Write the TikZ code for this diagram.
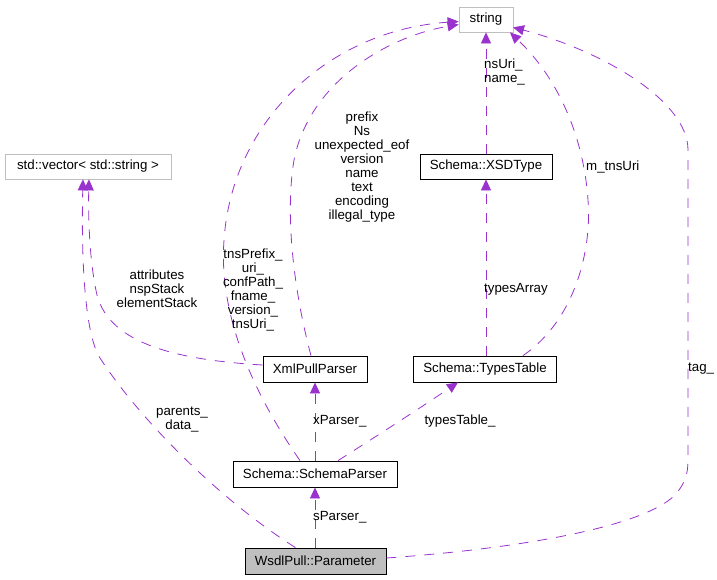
\documentclass[tikz,border=0pt]{standalone}
\usepackage{fontspec}
\setmainfont{Liberation Sans}
\usetikzlibrary{arrows.meta}
\definecolor{edgecol}{HTML}{9A32CD}
\definecolor{boxgray}{HTML}{BFBFBF}
\begin{document}
\begin{tikzpicture}[x=1pt,y=-1pt,
  cls/.style={draw=black, rectangle, inner sep=0pt, line width=0.8pt,
    font=\fontsize{13.3}{14}\selectfont, minimum height=26pt},
  ext/.style={cls, draw=boxgray, minimum height=25pt},
  focus/.style={cls, fill=boxgray},
  rel/.style={draw=edgecol, line width=0.8pt, dash pattern=on 10pt off 9pt,
    -{Triangle[length=11pt,width=10pt,fill=edgecol]}},
  lbl/.style={font=\fontsize{13.3}{14}\selectfont, align=center, inner sep=0pt}]
\useasboundingbox (0,0) rectangle (717,579);

% nodes
\node[ext, minimum width=54pt] (str) at (486,19.5) {string};
\node[ext, minimum width=166pt] (vec) at (88,166.5) {std::vector< std::string >};
\node[cls, minimum width=132pt, minimum height=25pt] (xsd) at (486,166.5) {Schema::XSDType};
\node[cls, minimum width=104pt] (xpp) at (315,369) {XmlPullParser};
\node[cls, minimum width=143pt] (tt) at (485,369) {Schema::TypesTable};
\node[cls, minimum width=164pt] (sp) at (315,474) {Schema::SchemaParser};
\node[focus, minimum width=141pt] (par) at (315.5,561) {WsdlPull::Parameter};

% edges
\draw[rel] (par.north -| 315,0) -- (sp.south -| 315,0);
\draw[rel] (sp.north -| 315,0) -- (xpp.south -| 315,0);
\draw[rel] ([xshift=23pt]sp.north) .. controls (380,434) and (420,408) .. ([xshift=-27pt]tt.south);
\draw[rel] (tt.north -| 486,0) -- (xsd.south);
\draw[rel] (xsd.north) -- (str.south);
\draw[rel] ([xshift=38pt]tt.north) .. controls (575,320) and (592,250) .. (588,200)
  .. controls (584,140) and (560,80) .. ([xshift=24pt]str.south);
\draw[rel] ([xshift=-4pt]xpp.north) .. controls (296,300) and (284,220) .. (294,160)
  .. controls (310,80) and (390,36) .. ([yshift=-5pt]str.west);
\draw[rel] ([xshift=-15pt]sp.north) .. controls (258,400) and (218,320) .. (224,240)
  .. controls (232,120) and (330,30) .. ([yshift=-2pt]str.west);
\draw[rel] ([yshift=4pt]xpp.west) .. controls (180,360) and (110,345) .. (97,295)
  .. controls (90,265) and (88,220) .. ([xshift=1pt]vec.south);
\draw[rel] ([xshift=-20pt]par.north) .. controls (220,500) and (140,420) .. (100,358)
  .. controls (85,335) and (81,260) .. ([xshift=-5pt]vec.south);
\draw[rel] ([yshift=3pt]par.east) .. controls (500,550) and (640,530) .. (675,495)
  .. controls (688,480) and (688,470) .. (688,455) -- (688,150)
  .. controls (688,100) and (600,50) .. ([xshift=27pt,yshift=5pt]str.south);

% labels
\node[lbl, anchor=west] (l1) at (313,517) {sParser\_};
\node[lbl, anchor=west] (l2) at (313,421) {xParser\_};
\node[lbl] (l3) at (460,421) {typesTable\_};
\node[lbl, anchor=west] (l4) at (484,289) {typesArray};
\node[lbl, anchor=west, align=left] (l5) at (484,72) {nsUri\_\\name\_};
\node[lbl, anchor=west] (l6) at (586,167) {m\_tnsUri};
\node[lbl, anchor=west] (l7) at (688,369) {tag\_};
\node[lbl] (l8) at (182,420) {parents\_\\data\_};
\node[lbl] (l9) at (157,289) {attributes\\nspStack\\elementStack};
\node[lbl] (l10) at (253,289.5) {tnsPrefix\_\\uri\_\\confPath\_\\fname\_\\version\_\\tnsUri\_};
\node[lbl] (l11) at (362,167) {prefix\\Ns\\unexpected\_eof\\version\\name\\text\\encoding\\illegal\_type};
\end{tikzpicture}
\end{document}
